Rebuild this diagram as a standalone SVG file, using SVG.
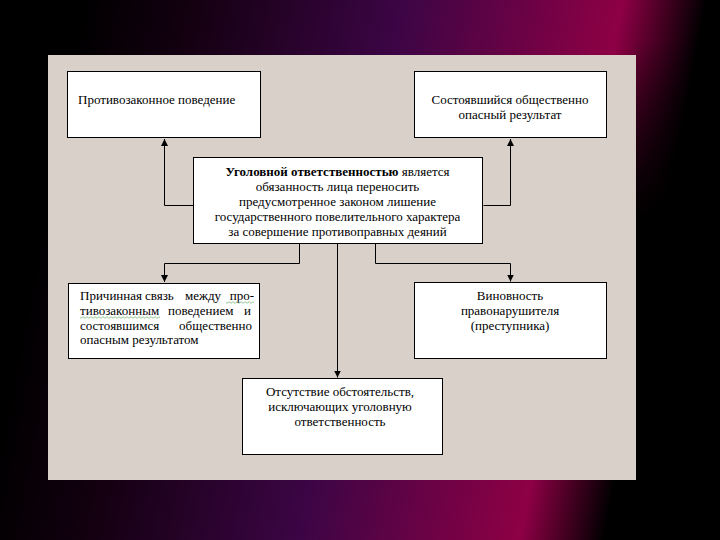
<svg xmlns="http://www.w3.org/2000/svg" width="720" height="540" viewBox="0 0 720 540">
  <defs>
    <linearGradient id="bg" gradientUnits="userSpaceOnUse" x1="0" y1="0" x2="707" y2="135">
      <stop offset="0" stop-color="#000000"/>
      <stop offset="0.11" stop-color="#000000"/>
      <stop offset="0.26" stop-color="#130010"/>
      <stop offset="0.55" stop-color="#3c0545"/>
      <stop offset="0.85" stop-color="#8e0045"/>
      <stop offset="0.965" stop-color="#000000"/>
      <stop offset="1" stop-color="#000000"/>
    </linearGradient>
    <linearGradient id="fade" x1="0" y1="0" x2="0" y2="1">
      <stop offset="0" stop-color="#000" stop-opacity="0"/>
      <stop offset="0.4" stop-color="#000" stop-opacity="1"/>
      <stop offset="1" stop-color="#000" stop-opacity="1"/>
    </linearGradient>
    <marker id="arr" viewBox="0 0 10 10" refX="10" refY="5" markerWidth="7" markerHeight="7" markerUnits="userSpaceOnUse" orient="auto">
      <path d="M0,0 L10,5 L0,10 Z" fill="#000"/>
    </marker>
    <style>
      .box { fill: #ffffff; stroke: #000000; stroke-width: 1; }
      .t { font-family: "Liberation Serif", "Times New Roman", serif; font-size: 13px; fill: #000; }
      .c { text-anchor: middle; }
      .ln { fill: none; stroke: #000; stroke-width: 1; }
      .sq { fill: none; stroke: #7cb87c; stroke-width: 0.8; }
    </style>
  </defs>

  <rect x="0" y="0" width="720" height="540" fill="url(#bg)"/>
  <rect x="636" y="40" width="84" height="450" fill="url(#fade)"/>
  <rect x="48" y="55" width="588" height="425" fill="#d8d0c9"/>

  <g id="connectors">
    <polyline class="ln" points="193.5,205.5 164.5,205.5 164.5,139" marker-end="url(#arr)"/>
    <polyline class="ln" points="483.5,205.5 510.5,205.5 510.5,139" marker-end="url(#arr)"/>
    <polyline class="ln" points="299.5,244 299.5,263.5 164.5,263.5 164.5,282" marker-end="url(#arr)"/>
    <polyline class="ln" points="375.5,244 375.5,263.5 510.5,263.5 510.5,281.5" marker-end="url(#arr)"/>
    <polyline class="ln" points="337.5,244 337.5,377.5" marker-end="url(#arr)"/>
  </g>

  <g id="node-behavior">
    <rect class="box" x="67.5" y="71.5" width="193" height="66"/>
    <text class="t" x="78" y="104">Противозаконное поведение</text>
  </g>

  <g id="node-result">
    <rect class="box" x="414.5" y="71.5" width="192" height="66"/>
    <text class="t c" x="510" y="104">Состоявшийся общественно</text>
    <text class="t c" x="510" y="119">опасный результат</text>
  </g>

  <g id="node-definition">
    <rect class="box" x="193.5" y="157.5" width="289" height="86"/>
    <text class="t c" x="337.5" y="176"><tspan font-weight="bold">Уголовной ответственностью</tspan> является</text>
    <text class="t c" x="337.5" y="191">обязанность лица переносить</text>
    <text class="t c" x="337.5" y="206">предусмотренное законом лишение</text>
    <text class="t c" x="337.5" y="221">государственного повелительного характера</text>
    <text class="t c" x="337.5" y="236">за совершение противоправных деяний</text>
  </g>

  <g id="node-causal">
    <rect class="box" x="68.5" y="283.5" width="191" height="75"/>
    <text class="t" y="300"><tspan x="80">Причинная</tspan><tspan x="145">связь</tspan><tspan x="185">между</tspan><tspan x="254" text-anchor="end">про-</tspan></text>
    <text class="t" y="315"><tspan x="80">тивозаконным</tspan><tspan x="168">поведением</tspan><tspan x="251" text-anchor="end">и</tspan></text>
    <text class="t" y="330"><tspan x="80">состоявшимся</tspan><tspan x="252" text-anchor="end">общественно</tspan></text>
    <text class="t" x="80" y="344">опасным результатом</text>
    <path class="sq" d="M226,302.5 q1,1.5 2,0 t2,0 t2,0 t2,0 t2,0 t2,0 t2,0 t2,0 t2,0 t2,0 t2,0 t2,0 t2,0 t2,0"/>
    <path class="sq" d="M80,317.5 q1,1.5 2,0 t2,0 t2,0 t2,0 t2,0 t2,0 t2,0 t2,0 t2,0 t2,0 t2,0 t2,0 t2,0 t2,0 t2,0 t2,0 t2,0 t2,0 t2,0 t2,0 t2,0 t2,0 t2,0 t2,0 t2,0 t2,0 t2,0 t2,0 t2,0 t2,0 t2,0 t2,0 t2,0 t2,0 t2,0 t2,0 t2,0 t2,0 t2,0 t2,0"/>
  </g>

  <g id="node-guilt">
    <rect class="box" x="414.5" y="282.5" width="192" height="76"/>
    <text class="t c" x="510" y="300">Виновность</text>
    <text class="t c" x="510" y="315">правонарушителя</text>
    <text class="t c" x="510" y="330">(преступника)</text>
  </g>

  <g id="node-circumstances">
    <rect class="box" x="242.5" y="378.5" width="200" height="76"/>
    <text class="t c" x="340" y="396">Отсутствие обстоятельств,</text>
    <text class="t c" x="340" y="411">исключающих уголовную</text>
    <text class="t c" x="340" y="426">ответственность</text>
  </g>
</svg>
